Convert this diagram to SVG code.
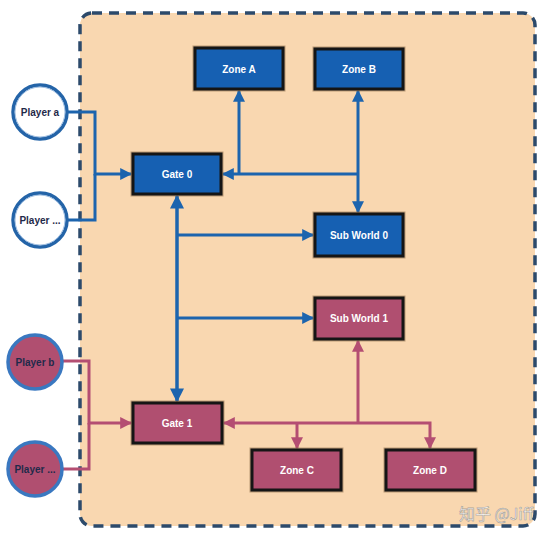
<svg xmlns="http://www.w3.org/2000/svg" width="554" height="538" viewBox="0 0 554 538">
  <style>
    .box{stroke:#151515;stroke-width:3}
    .shadow{fill:none;stroke:#8a6a48;stroke-width:5;opacity:0.55}
    .blue{fill:#1660b2}
    .pink{fill:#b04f70}
    .lbl{font-family:"Liberation Sans",Arial,sans-serif;font-weight:bold;font-size:10px;fill:#ffffff;text-anchor:middle;dominant-baseline:central}
    .plbl{font-family:"Liberation Sans",Arial,sans-serif;font-weight:bold;font-size:10px;fill:#1f2a4a;text-anchor:middle;dominant-baseline:central}
    .cb{fill:none;stroke:#1c64ae;stroke-width:3}
    .cp{fill:none;stroke:#b44e72;stroke-width:3}
  </style>
  <defs>
    <marker id="ab" viewBox="0 0 10 10" refX="9" refY="5" markerWidth="4" markerHeight="4" orient="auto-start-reverse" markerUnits="strokeWidth">
      <path d="M0,0 L10,5 L0,10 Z" fill="#1c64ae"/>
    </marker>
    <marker id="ap" viewBox="0 0 10 10" refX="9" refY="5" markerWidth="4" markerHeight="4" orient="auto-start-reverse" markerUnits="strokeWidth">
      <path d="M0,0 L10,5 L0,10 Z" fill="#b44e72"/>
    </marker>
  </defs>
  <rect x="0" y="0" width="554" height="538" fill="#ffffff"/>
  <g id="container">
    <rect x="80" y="13" width="455" height="513" rx="12" fill="#f9d7b0" stroke="#2c4a6b" stroke-width="3.5" stroke-dasharray="10,7"/>
  </g>
  <g id="connectors">
    <path class="cb" d="M67,112 H95 V174 H131" marker-end="url(#ab)"/>
    <path class="cb" d="M67,220 H95 V174"/>
    <path class="cb" d="M239,174 V91" marker-end="url(#ab)"/>
    <path class="cb" d="M358,91 V212" marker-start="url(#ab)" marker-end="url(#ab)"/>
    <path class="cb" d="M358,174 H223" marker-end="url(#ab)"/>
    <path class="cb" style="stroke-width:3.5" d="M177,196 V401" marker-start="url(#ab)" marker-end="url(#ab)"/>
    <path class="cb" d="M177,235 H313" marker-end="url(#ab)"/>
    <path class="cb" d="M177,318 H313" marker-end="url(#ab)"/>
    <path class="cp" d="M63,361 H89 V423 H131" marker-end="url(#ap)"/>
    <path class="cp" d="M63,469 H89 V423"/>
    <path class="cp" d="M224,423 H430 V448" marker-start="url(#ap)" marker-end="url(#ap)"/>
    <path class="cp" d="M358,423 V341" marker-end="url(#ap)"/>
    <path class="cp" d="M297,423 V448" marker-end="url(#ap)"/>
  </g>
  <g id="player-a">
    <circle cx="40" cy="112" r="27" fill="#ffffff" stroke="#2464a8" stroke-width="3.5"/>
    <circle cx="40" cy="112" r="25" fill="none" stroke="#9cbce0" stroke-width="1"/>
    <text class="plbl" x="40" y="112">Player a</text>
  </g>
  <g id="player-a2">
    <circle cx="40" cy="220" r="27" fill="#ffffff" stroke="#2464a8" stroke-width="3.5"/>
    <circle cx="40" cy="220" r="25" fill="none" stroke="#9cbce0" stroke-width="1"/>
    <text class="plbl" x="40" y="220">Player ...</text>
  </g>
  <g id="player-b">
    <circle cx="35" cy="362" r="27" fill="#b04f70" stroke="#3a78c0" stroke-width="3.5"/>
    <text class="plbl" x="35" y="362">Player b</text>
  </g>
  <g id="player-b2">
    <circle cx="35" cy="469" r="27" fill="#b04f70" stroke="#3a78c0" stroke-width="3.5"/>
    <text class="plbl" x="35" y="469">Player ...</text>
  </g>
  <g id="zone-a">
    <rect class="shadow" x="195" y="48" width="88" height="41"/>
    <rect class="box blue" x="195" y="48" width="88" height="41"/>
    <text class="lbl" x="239" y="69">Zone A</text>
  </g>
  <g id="zone-b">
    <rect class="shadow" x="315" y="49" width="88" height="40"/>
    <rect class="box blue" x="315" y="49" width="88" height="40"/>
    <text class="lbl" x="359" y="69">Zone B</text>
  </g>
  <g id="gate-0">
    <rect class="shadow" x="133" y="154" width="88" height="40"/>
    <rect class="box blue" x="133" y="154" width="88" height="40"/>
    <text class="lbl" x="177" y="174">Gate 0</text>
  </g>
  <g id="sub-world-0">
    <rect class="shadow" x="315" y="214" width="88" height="42"/>
    <rect class="box blue" x="315" y="214" width="88" height="42"/>
    <text class="lbl" x="359" y="235">Sub World 0</text>
  </g>
  <g id="sub-world-1">
    <rect class="shadow" x="315" y="298" width="88" height="41"/>
    <rect class="box pink" x="315" y="298" width="88" height="41"/>
    <text class="lbl" x="359" y="318">Sub World 1</text>
  </g>
  <g id="gate-1">
    <rect class="shadow" x="133" y="403" width="89" height="40"/>
    <rect class="box pink" x="133" y="403" width="89" height="40"/>
    <text class="lbl" x="177" y="423">Gate 1</text>
  </g>
  <g id="zone-c">
    <rect class="shadow" x="252" y="450" width="89" height="40"/>
    <rect class="box pink" x="252" y="450" width="89" height="40"/>
    <text class="lbl" x="297" y="470">Zone C</text>
  </g>
  <g id="zone-d">
    <rect class="shadow" x="386" y="450" width="89" height="40"/>
    <rect class="box pink" x="386" y="450" width="89" height="40"/>
    <text class="lbl" x="430" y="470">Zone D</text>
  </g>
  <g id="watermark">
    <text x="459" y="520" font-family="'Noto Sans CJK SC','Liberation Sans',sans-serif" font-size="16" fill="#ffffff" fill-opacity="0.9" stroke="#8a8a8a" stroke-width="0.7" stroke-opacity="0.7">知乎 @Jiff</text>
  </g>
</svg>
